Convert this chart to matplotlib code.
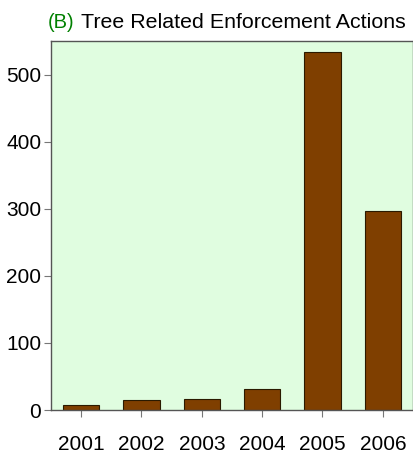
import matplotlib
matplotlib.use("Agg")
import matplotlib.pyplot as plt
import numpy as np

years = ["2001", "2002", "2003", "2004", "2005", "2006"]
actions = [7, 15, 16, 31, 534, 297]

plt.rcParams['font.family'] = ['Liberation Sans', 'DejaVu Sans']

fig = plt.figure(figsize=(4.14, 4.55), dpi=100)
ax = fig.add_axes([51 / 414, 1 - 410 / 455, 362 / 414, 369 / 455])
ax.set_facecolor('#e0fde0')

x = np.arange(len(years))
ax.bar(x, actions, width=0.6, color='#7f3f00', edgecolor='#2a1a00', linewidth=0.8)

ax.set_xlim(-0.5, 5.5)
ax.set_ylim(0, 550)
ax.set_xticks(x)
ax.set_xticklabels(years)
ax.set_yticks([0, 100, 200, 300, 400, 500])
ax.tick_params(axis='both', labelsize=15, color='#777777', length=5, direction='out')
ax.tick_params(axis='x', pad=13)
ax.tick_params(axis='y', pad=2)
for s in ax.spines.values():
    s.set_color('#555555')
    s.set_linewidth(1)

# title: green (B) then black text, squeezed to the reference width
lbl = fig.text(48 / 414, 1 - 22 / 455, "(B)", ha='left', va='center', fontsize=15,
               color='#008000')
ttl = fig.text(81 / 414, 1 - 22 / 455, "Tree Related Enforcement Actions",
               ha='left', va='center', fontsize=15)
fig.canvas.draw()
r = fig.canvas.get_renderer()
w = ttl.get_window_extent(r).width
ttl.set_fontsize(15 * 326 / w)
w2 = lbl.get_window_extent(r).width
lbl.set_fontsize(15 * 27 / w2)

fig.savefig('out.png', dpi=100)
